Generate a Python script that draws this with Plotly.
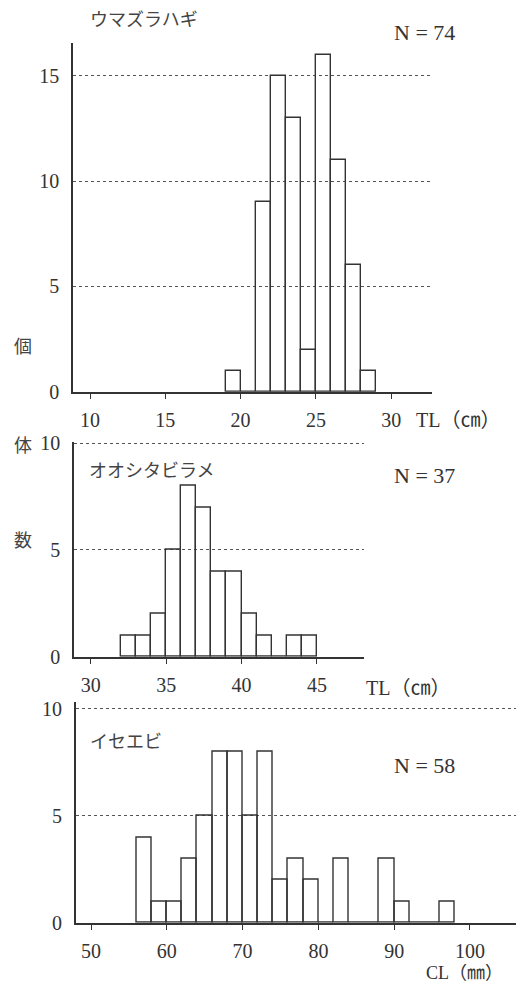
import plotly.graph_objects as go

# ---------------- data ----------------
# ウマズラハギ  (TL, 1 cm bins)
fish1_bins = [19, 20, 21, 22, 23, 24, 25, 26, 27, 28]
fish1_counts = [1, 0, 9, 15, 13, 2, 16, 11, 6, 1]
# オオシタビラメ (TL, 1 cm bins)
fish2_bins = [32, 33, 34, 35, 36, 37, 38, 39, 40, 41, 42, 43, 44]
fish2_counts = [1, 1, 2, 5, 8, 7, 4, 4, 2, 1, 0, 1, 1]
# イセエビ (CL, 2 mm bins)
lob_bins = [56, 58, 60, 62, 64, 66, 68, 70, 72, 74, 76, 78, 80, 82, 84, 86, 88, 90, 92, 94, 96]
lob_counts = [4, 1, 1, 3, 5, 8, 8, 5, 8, 2, 3, 2, 0, 3, 0, 0, 3, 1, 0, 0, 1]

x1_ticks = [10, 15, 20, 25, 30]
x2_ticks = [30, 35, 40, 45]
x3_ticks = [50, 60, 70, 80, 90, 100]
y1_ticks = [0, 5, 10, 15]
y2_ticks = [0, 5, 10]
y3_ticks = [0, 5, 10]

titles = ["ウマズラハギ", "オオシタビラメ", "イセエビ"]
n_labels = ["N = 74", "N = 37", "N = 58"]
x_titles = ["TL（㎝）", "TL（㎝）", "CL（㎜）"]

W, H = 520, 986
INK = "#333333"
SERIF = "Liberation Serif, DejaVu Serif, Noto Sans CJK JP, serif"
JP = "Noto Sans CJK JP, sans-serif"


def px(v):
    return v / W


def py(v):
    return 1 - v / H


fig = go.Figure()

bar_style = dict(marker=dict(color="rgba(0,0,0,0)", line=dict(color=INK, width=1.4)),
                 offset=0, showlegend=False, hoverinfo="x+y")

fig.add_trace(go.Bar(x=fish1_bins, y=fish1_counts, width=1, xaxis="x", yaxis="y", **bar_style))
fig.add_trace(go.Bar(x=fish2_bins, y=fish2_counts, width=1, xaxis="x2", yaxis="y2", **bar_style))
fig.add_trace(go.Bar(x=lob_bins, y=lob_counts, width=2, xaxis="x3", yaxis="y3", **bar_style))


def xax(domain, rng, ticks, anchor):
    return dict(domain=domain, range=rng, tickvals=ticks, anchor=anchor,
                showline=True, linecolor=INK, linewidth=1.5, ticks="outside",
                ticklen=6, tickcolor=INK, tickwidth=1.2, showgrid=False, zeroline=False,
                tickfont=dict(family=SERIF, size=20, color=INK), ticklabelstandoff=4,
                automargin=False, fixedrange=True)


def yax(domain, rng, ticks, anchor):
    return dict(domain=domain, range=rng, tickvals=ticks, anchor=anchor,
                showline=True, linecolor=INK, linewidth=1.5, ticks="",
                showgrid=True, gridcolor="#555555", gridwidth=1, griddash="3px,3px",
                zeroline=False, tickfont=dict(family=SERIF, size=20, color=INK),
                ticklabelstandoff=8, automargin=False, fixedrange=True)


fig.update_layout(
    template="none",
    width=W, height=H,
    margin=dict(l=0, r=0, t=0, b=0, autoexpand=False),
    paper_bgcolor="white", plot_bgcolor="white",
    bargap=0, barmode="overlay",
    xaxis=xax([px(73), px(431.7)], [8.871, 32.69], x1_ticks, "y"),
    yaxis=yax([py(391.7), py(43)], [0, 16.56], y1_ticks, "x"),
    xaxis2=xax([px(74), px(364)], [28.89, 48.12], x2_ticks, "y2"),
    yaxis2=yax([py(656.7), py(441.7)], [0, 10.07], y2_ticks, "x2"),
    xaxis3=xax([px(75.7), px(516)], [47.98, 106.07], x3_ticks, "y3"),
    yaxis3=yax([py(922.7), py(701.7)], [0, 10.34], y3_ticks, "x3"),
)

ann = []
# species names
for t, (x0, yc) in zip(titles, [(88, 17.5), (87, 469), (88, 740)]):
    ann.append(dict(text=t, x=px(x0), y=py(yc), xanchor="left", yanchor="middle",
                    font=dict(family=JP, size=18, color="#444444")))
# N labels
for t, yc in zip(n_labels, [32.5, 475, 765]):
    ann.append(dict(text=t, x=px(392), y=py(yc), xanchor="left", yanchor="middle",
                    font=dict(family=SERIF, size=22, color=INK)))
# x-axis titles
for t, (xc, yc, fs) in zip(x_titles, [(458, 420, 20), (408, 688, 20), (464, 973, 18)]):
    ann.append(dict(text=t, x=px(xc), y=py(yc), xanchor="center", yanchor="middle",
                    font=dict(family=SERIF, size=fs, color=INK)))
# vertical y-axis label 個体数
for t, yc in zip(["個", "体", "数"], [345, 444, 539]):
    ann.append(dict(text=t, x=px(23), y=py(yc), xanchor="center", yanchor="middle",
                    font=dict(family=JP, size=18, color="#444444")))

for a in ann:
    a.update(xref="paper", yref="paper", showarrow=False)
fig.update_layout(annotations=ann)

fig.write_html(
    "out.html",
    config={"displayModeBar": False},
    post_script="document.body.style.margin='0';document.body.style.overflow='hidden';",
)
